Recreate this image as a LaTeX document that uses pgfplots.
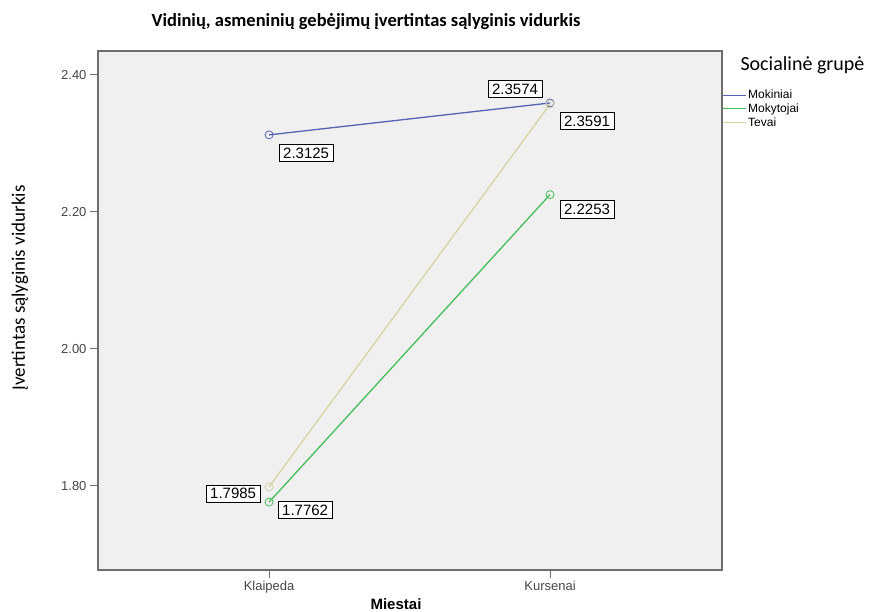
\documentclass[border=0pt]{standalone}
\usepackage{fontspec}
\setmainfont{Liberation Sans}
\newfontfamily\carlito{Carlito}
\usepackage{pgfplots}
\pgfplotsset{compat=1.18}
\definecolor{cBlue}{RGB}{84,100,180}
\definecolor{cGreen}{RGB}{70,190,90}
\definecolor{cBeige}{RGB}{216,211,162}
\definecolor{plotbg}{RGB}{240,240,240}
\definecolor{framec}{RGB}{110,110,110}
\definecolor{tickc}{RGB}{70,70,70}
\begin{document}
\begin{tikzpicture}
\useasboundingbox (0bp,0bp) rectangle (880bp,612bp);
\begin{axis}[
  at={(98bp,42bp)}, anchor=south west, scale only axis,
  width=624bp, height=519bp,
  xmin=-0.609, xmax=1.612, ymin=1.677, ymax=2.435,
  xtick={0,1}, xticklabels={Klaipeda,Kursenai},
  ytick={1.8,2.0,2.2,2.4},
  yticklabel style={/pgf/number format/.cd, fixed, fixed zerofill, precision=2},
  /pgf/number format/assume math mode=true,
  axis background/.style={fill=plotbg},
  axis line style={draw=framec, line width=1.6bp},
  tick align=outside, major tick length=8bp, tick pos=left,
  tick style={draw=framec, line width=1bp},
  ticklabel style={font=\fontsize{13bp}{14bp}\selectfont, text=tickc},
  legend style={at={(rel axis cs:1,0.929)}, anchor=north west, draw=none, fill=none,
    font=\fontsize{12bp}{13bp}\selectfont, inner sep=0pt, row sep=-0.5bp,
    cells={anchor=west}},
  legend image code/.code={\draw[#1, line width=1bp] (0bp,0bp) -- (23bp,0bp);},
  every axis plot/.append style={line width=1.3bp, mark=o, mark size=4bp, mark options={line width=0.8bp}},
  clip=false,
]
\addplot[color=cBlue, draw=cBlue] coordinates {(0,2.3125) (1,2.3591)};
\addlegendentry{Mokiniai}
\addplot[color=cGreen, draw=cGreen] coordinates {(0,1.7762) (1,2.2253)};
\addlegendentry{Mokytojai}
\addplot[color=cBeige, draw=cBeige] coordinates {(0,1.7985) (1,2.3574)};
\addlegendentry{Tevai}
\tikzset{lbl/.style={draw=black, fill=white, line width=0.9bp, inner xsep=4bp, inner ysep=3.5bp,
  font=\fontsize{15bp}{16bp}\selectfont}}
\node[lbl, xshift=37bp, yshift=-18bp] at (axis cs:0,2.3125) {2.3125};
\node[lbl, xshift=37bp, yshift=-18bp] at (axis cs:1,2.3591) {2.3591};
\node[lbl, xshift=-35bp, yshift=15bp] at (axis cs:1,2.3574) {2.3574};
\node[lbl, xshift=37bp, yshift=-15bp] at (axis cs:1,2.2253) {2.2253};
\node[lbl, xshift=-36bp, yshift=-7bp] at (axis cs:0,1.7985) {1.7985};
\node[lbl, xshift=36bp, yshift=-8bp] at (axis cs:0,1.7762) {1.7762};
\end{axis}
\node[font=\carlito\bfseries\fontsize{18.5bp}{20bp}\selectfont] at (366bp,590bp) {Vidinių, asmeninių gebėjimų įvertintas sąlyginis vidurkis};
\node[font=\carlito\fontsize{19bp}{20bp}\selectfont, rotate=90] at (20bp,324bp) {Įvertintas sąlyginis vidurkis};
\node[font=\carlito\fontsize{20bp}{21bp}\selectfont, anchor=west] at (737bp,547bp) {Socialinė grupė};
\node[font=\bfseries\fontsize{15bp}{16bp}\selectfont] at (396bp,8bp) {Miestai};
\end{tikzpicture}
\end{document}
